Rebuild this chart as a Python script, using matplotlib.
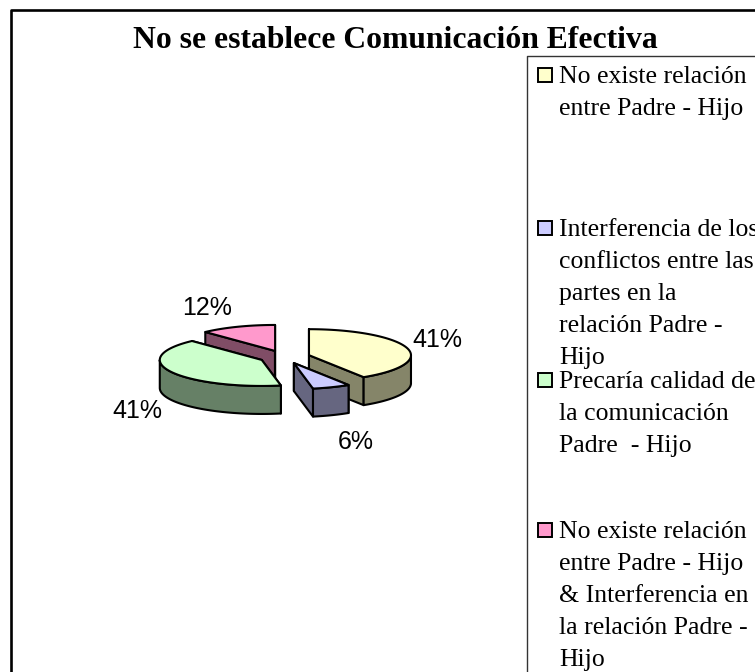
import numpy as np
import matplotlib
matplotlib.use("Agg")
import matplotlib.pyplot as plt

title = "No se establece Comunicación Efectiva"
values = [41, 6, 41, 12]
pct_labels = ["41%", "6%", "41%", "12%"]
legend_lines = [
    ["No existe relación", "entre Padre - Hijo"],
    ["Interferencia de los", "conflictos entre las", "partes en la", "relación Padre -", "Hijo"],
    ["Precaría calidad de", "la comunicación", "Padre  - Hijo"],
    ["No existe relación", "entre Padre - Hijo", "& Interferencia en", "la relación Padre -", "Hijo"],
]
legend_y = [77, 230, 382, 532]
top_colors = ["#FFFFCC", "#CCCCFF", "#CCFFCC", "#FF99CC"]
side_colors = ["#858569", "#666680", "#668066", "#804D66"]
label_pos = [(437, 340), (356, 442), (137, 411), (207, 308)]

W, H = 755, 672
cx, cy = 284.5, 357
rx, ry = 102, 26
depth = 28
explode = 0.25
edge = dict(edgecolor="black", linewidth=1.5, joinstyle="round")

fig = plt.figure(figsize=(W / 100, H / 100), dpi=100)
ax = fig.add_axes([0, 0, 1, 1])
ax.set_xlim(0, W)
ax.set_ylim(H, 0)
ax.axis("off")


def arc(a1, a2, c):
    t = np.radians(np.linspace(a1, a2, 80))
    return c[0] + rx * np.sin(t), c[1] - ry * np.cos(t)


def draw_slice(a1, a2, top, side, zorder):
    mid = np.radians((a1 + a2) / 2)
    c = (cx + explode * rx * np.sin(mid), cy - explode * ry * np.cos(mid))
    # cut faces first, the top hides whatever should not show
    for a in (a1, a2):
        xa, ya = arc(a, a, c)
        ax.fill([c[0], xa[0], xa[0], c[0]], [c[1], ya[0], ya[0] + depth, c[1] + depth],
                facecolor=side, zorder=zorder, **edge)
    lo, hi = max(a1, 90), min(a2, 270)
    if lo < hi:
        xr, yr = arc(lo, hi, c)
        ax.fill(np.r_[xr, xr[::-1]], np.r_[yr, yr[::-1] + depth],
                facecolor=side, zorder=zorder, **edge)
    xt, yt = arc(a1, a2, c)
    ax.fill(np.r_[c[0], xt], np.r_[c[1], yt], facecolor=top, zorder=zorder, **edge)


angles = np.r_[0, np.cumsum(values)] / sum(values) * 360
order = [3, 0, 2, 1]
for z, i in enumerate(order):
    draw_slice(angles[i], angles[i + 1], top_colors[i], side_colors[i], 3 + z)

for txt, (x, y) in zip(pct_labels, label_pos):
    ax.text(x, y, txt, family="Liberation Sans", fontsize=18, color="black",
            ha="center", va="center", zorder=10)

ax.text(395, 40, title, family="Liberation Serif", fontweight="bold", fontsize=22.8,
        ha="center", va="center", color="black", zorder=10)

# outer chart frame, cut off by the image at right and bottom
ax.plot([W + 5, 11, 11], [9.5, 9.5, H + 5], color="black", lw=1.9, solid_capstyle="butt")
# legend frame
ax.plot([W + 5, 527, 527], [55.5, 55.5, H + 5], color="#333333", lw=1.0, solid_capstyle="butt")

box_y = [y - 2 for y in legend_y]
for lines, y0, yb, col in zip(legend_lines, legend_y, box_y, top_colors):
    ax.add_patch(plt.Rectangle((537.5, yb - 7), 14, 14, facecolor=col, edgecolor="black",
                               linewidth=1.4, zorder=6))
    for k, line in enumerate(lines):
        ax.text(559, y0 + k * 32, line, family="Liberation Serif", fontsize=18.5,
                ha="left", va="center", color="black", zorder=10, clip_on=True)

fig.savefig("out.png", dpi=100, facecolor="white")
